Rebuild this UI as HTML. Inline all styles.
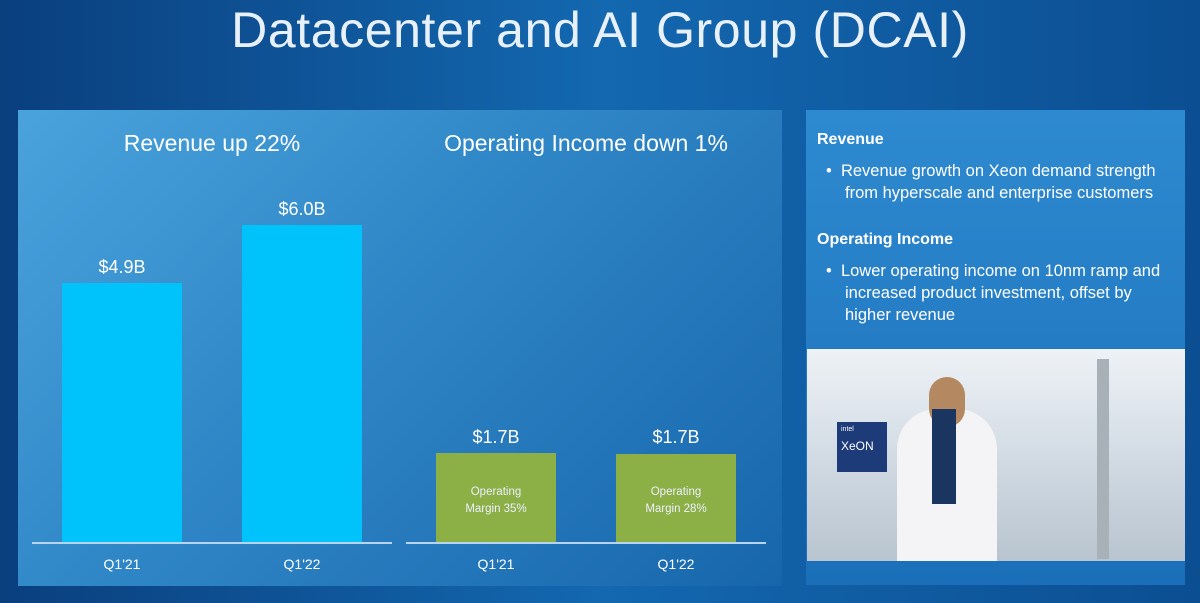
<!DOCTYPE html>
<html><head><style>
body{margin:0;width:1200px;height:603px;overflow:hidden;font-family:"Liberation Sans",sans-serif;color:#fff;
background:linear-gradient(90deg,#0a3f7e 0%,#1368b0 50%,#0c4e92 100%);position:relative}
.a{position:absolute}
.t{text-align:center}
</style></head><body>
<div class="a t" style="left:0;top:1px;width:1200px;font-size:50px;color:#e8f1fa;letter-spacing:0.6px">Datacenter and AI Group (DCAI)</div>
<div class="a" style="left:18px;top:110px;width:764px;height:476px;background:linear-gradient(135deg,#4aa3dc 0%,#2f86c6 45%,#1766ac 100%)"></div>
<div class="a t" style="left:62px;top:130px;width:300px;font-size:23px">Revenue up 22%</div>
<div class="a t" style="left:406px;top:130px;width:360px;font-size:23px">Operating Income down 1%</div>
<div class="a" style="left:62px;top:283px;width:120px;height:260px;background:#00c3fb"></div>
<div class="a" style="left:242px;top:225px;width:120px;height:318px;background:#00c3fb"></div>
<div class="a t" style="left:62px;top:257px;width:120px;font-size:18px">$4.9B</div>
<div class="a t" style="left:242px;top:199px;width:120px;font-size:18px">$6.0B</div>
<div class="a" style="left:436px;top:453px;width:120px;height:90px;background:#8cb045"></div>
<div class="a" style="left:616px;top:454px;width:120px;height:89px;background:#8cb045"></div>
<div class="a t" style="left:436px;top:427px;width:120px;font-size:18px">$1.7B</div>
<div class="a t" style="left:616px;top:427px;width:120px;font-size:18px">$1.7B</div>
<div class="a t" style="left:436px;top:484px;width:120px;font-size:11.5px;line-height:17px;color:#eef">Operating<br>Margin 35%</div>
<div class="a t" style="left:616px;top:484px;width:120px;font-size:11.5px;line-height:17px;color:#eef">Operating<br>Margin 28%</div>
<div class="a" style="left:32px;top:542px;width:360px;height:2px;background:#b8d4ec"></div>
<div class="a" style="left:406px;top:542px;width:360px;height:2px;background:#b8d4ec"></div>
<div class="a t" style="left:62px;top:556px;width:120px;font-size:14px">Q1'21</div>
<div class="a t" style="left:242px;top:556px;width:120px;font-size:14px">Q1'22</div>
<div class="a t" style="left:436px;top:556px;width:120px;font-size:14px">Q1'21</div>
<div class="a t" style="left:616px;top:556px;width:120px;font-size:14px">Q1'22</div>
<div class="a" style="left:806px;top:110px;width:379px;height:475px;background:linear-gradient(180deg,#2e8ad0,#1a6fb8)"></div>
<div class="a" style="left:817px;top:131px;font-size:16px;font-weight:bold">Revenue</div>
<div class="a" style="left:826px;top:160px;font-size:16.5px;line-height:22px;white-space:nowrap">•&nbsp;&nbsp;Revenue growth on Xeon demand strength<br><span style="padding-left:19px">from hyperscale and enterprise customers</span></div>
<div class="a" style="left:817px;top:231px;font-size:16px;font-weight:bold">Operating Income</div>
<div class="a" style="left:826px;top:260px;font-size:16.5px;line-height:22px;white-space:nowrap">•&nbsp;&nbsp;Lower operating income on 10nm ramp and<br><span style="padding-left:19px">increased product investment, offset by</span><br><span style="padding-left:19px">higher revenue</span></div>
<div class="a" style="left:807px;top:349px;width:378px;height:212px;background:linear-gradient(180deg,#eef2f6 0%,#d8e0e8 40%,#b8c4cf 100%);overflow:hidden">
 <div class="a" style="left:90px;top:60px;width:100px;height:152px;background:#f4f4f6;border-radius:40px 40px 0 0"></div>
 <div class="a" style="left:122px;top:28px;width:36px;height:50px;background:#b48860;border-radius:18px"></div>
 <div class="a" style="left:125px;top:60px;width:24px;height:95px;background:#1a3560"></div>
 <div class="a" style="left:290px;top:10px;width:12px;height:200px;background:#a8b0b8"></div>
 <div class="a" style="left:30px;top:73px;width:50px;height:50px;background:#1c3b78;font-size:7px;padding:4px;box-sizing:border-box">intel<div style="font-size:12px;margin-top:6px">XeON</div></div>
</div>
</body></html>
